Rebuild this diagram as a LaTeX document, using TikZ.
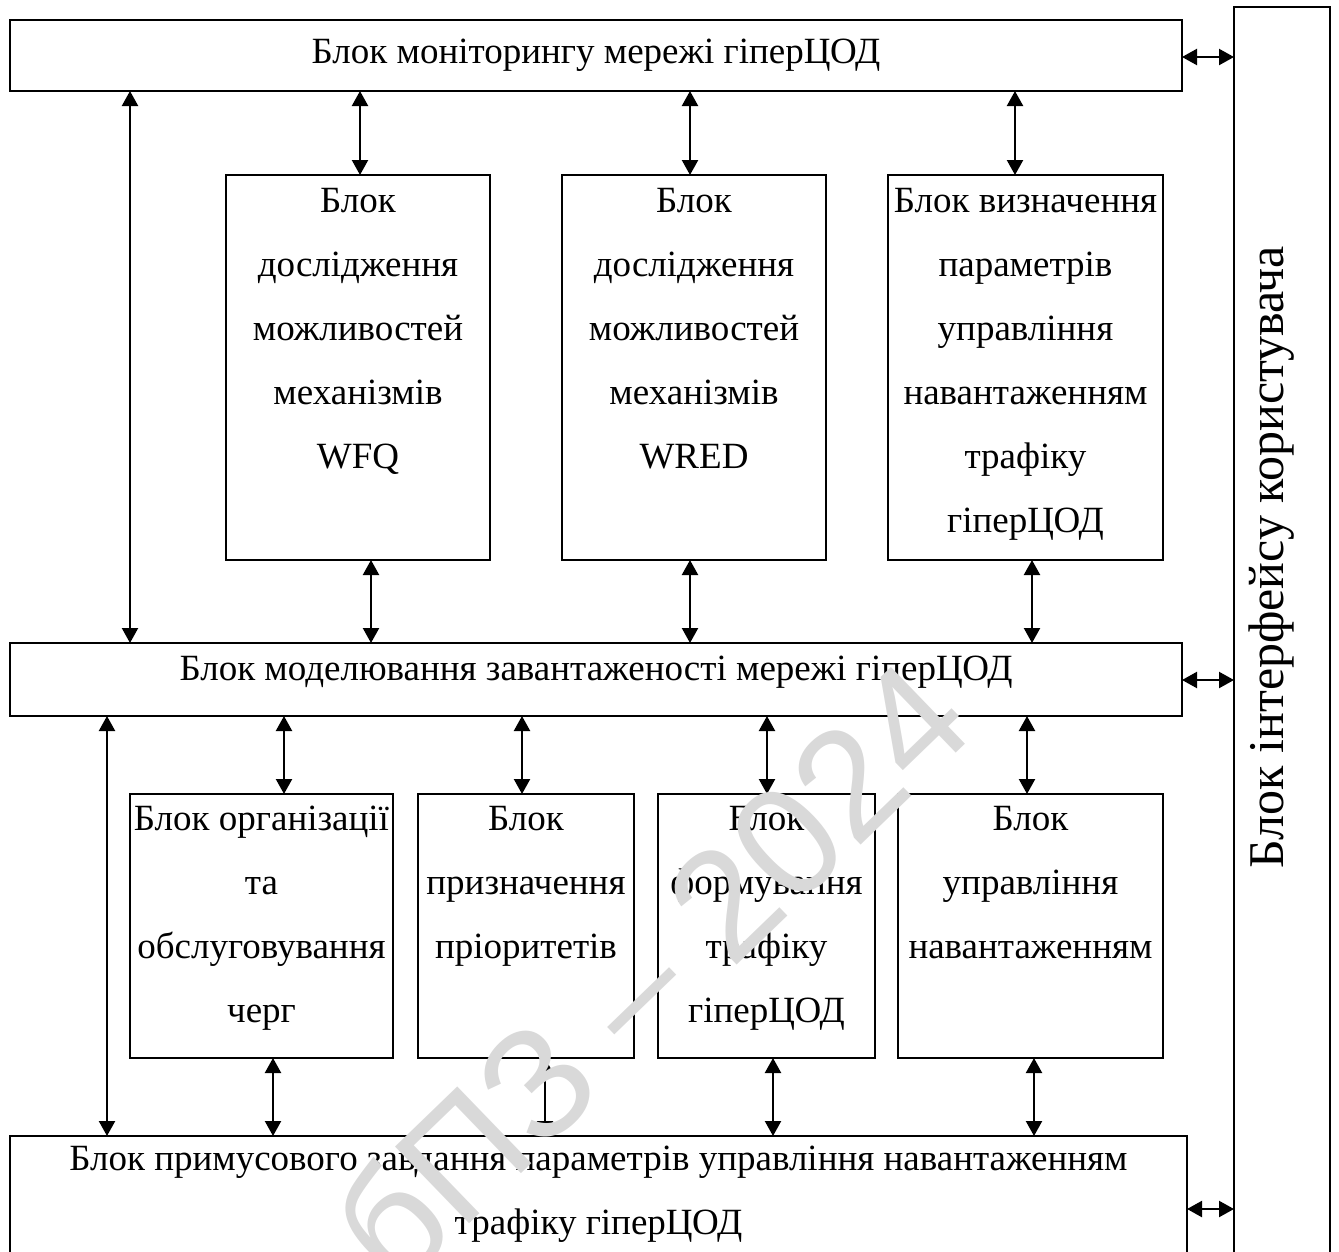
\documentclass[tikz,border=0pt]{standalone}
\usepackage{fontspec}
\setmainfont{Liberation Serif}
\newfontfamily\wmfont{Liberation Sans}
\usetikzlibrary{arrows.meta}
\begin{document}
\begin{tikzpicture}[x=1pt,y=-1pt,
  blk/.style={draw, line width=1.8pt, rectangle, inner sep=0pt, outer sep=0pt, anchor=north west},
  lbl/.style={align=center, inner sep=0pt, anchor=north, font=\fontsize{37}{64}\selectfont},
  conn/.style={line width=2.2pt, {Triangle[length=15pt,width=16pt]}-{Triangle[length=15pt,width=16pt]}},
]
\useasboundingbox (0,0) rectangle (1339,1251);
% boxes
\node[blk, minimum width=1172pt, minimum height=71pt] (top) at (10,20) {};
\node[blk, minimum width=96pt, minimum height=1300pt] (ui) at (1234,7) {};
\node[blk, minimum width=264pt, minimum height=385pt] (A) at (226,175) {};
\node[blk, minimum width=264pt, minimum height=385pt] (B) at (562,175) {};
\node[blk, minimum width=275pt, minimum height=385pt] (C) at (888,175) {};
\node[blk, minimum width=1172pt, minimum height=73pt] (mid) at (10,643) {};
\node[blk, minimum width=263pt, minimum height=264pt] (D) at (130,794) {};
\node[blk, minimum width=216pt, minimum height=264pt] (E) at (418,794) {};
\node[blk, minimum width=217pt, minimum height=264pt] (F) at (658,794) {};
\node[blk, minimum width=265pt, minimum height=264pt] (G) at (898,794) {};
\node[blk, minimum width=1177pt, minimum height=200pt] (bot) at (10,1136) {};
% texts
\node[lbl] (toptxt) at ([yshift=-6pt]top.north) {\rule{0pt}{37pt}Блок моніторингу мережі гіперЦОД};
\node[lbl] (Atxt) at (A.north) {\rule{0pt}{37pt}Блок\\дослідження\\можливостей\\механізмів\\WFQ};
\node[lbl] (Btxt) at (B.north) {\rule{0pt}{37pt}Блок\\дослідження\\можливостей\\механізмів\\WRED};
\node[lbl] (Ctxt) at (C.north) {\rule{0pt}{37pt}Блок визначення\\параметрів\\управління\\навантаженням\\трафіку\\гіперЦОД};
\node[lbl] (midtxt) at (mid.north) {\rule{0pt}{37pt}Блок моделювання завантаженості мережі гіперЦОД};
\node[lbl] (Dtxt) at (D.north) {\rule{0pt}{36pt}Блок організації\\та\\обслуговування\\черг};
\node[lbl] (Etxt) at (E.north) {\rule{0pt}{36pt}Блок\\призначення\\пріоритетів};
\node[lbl] (Ftxt) at (F.north) {\rule{0pt}{36pt}Блок\\формування\\трафіку\\гіперЦОД};
\node[lbl] (Gtxt) at (G.north) {\rule{0pt}{36pt}Блок\\управління\\навантаженням};
\node[lbl] (bottxt) at (bot.north) {\rule{0pt}{34pt}Блок примусового завдання параметрів управління навантаженням\\трафіку гіперЦОД};
\node[rotate=90, inner sep=0pt, anchor=base, font=\fontsize{50}{54}\selectfont] (uitxt) at (1283,557) {Блок інтерфейсу користувача};
% connectors
\draw[conn] (top.south -| 130,0) -- (mid.north -| 130,0);
\draw[conn] (mid.south -| 107,0) -- (bot.north -| 107,0);
\draw[conn] (top.south -| 360,0) -- (A.north -| 360,0);
\draw[conn] (top.south -| 690,0) -- (B.north -| 690,0);
\draw[conn] (top.south -| 1015,0) -- (C.north -| 1015,0);
\draw[conn] (A.south -| 371,0) -- (mid.north -| 371,0);
\draw[conn] (B.south -| 690,0) -- (mid.north -| 690,0);
\draw[conn] (C.south -| 1032,0) -- (mid.north -| 1032,0);
\draw[conn] (mid.south -| 284,0) -- (D.north -| 284,0);
\draw[conn] (mid.south -| 522,0) -- (E.north -| 522,0);
\draw[conn] (mid.south -| 767,0) -- (F.north -| 767,0);
\draw[conn] (mid.south -| 1027,0) -- (G.north -| 1027,0);
\draw[conn] (D.south -| 273,0) -- (bot.north -| 273,0);
\draw[conn] (E.south -| 545,0) -- (bot.north -| 545,0);
\draw[conn] (F.south -| 773,0) -- (bot.north -| 773,0);
\draw[conn] (G.south -| 1034,0) -- (bot.north -| 1034,0);
\draw[conn] (top.east |- 0,57) -- (ui.west |- 0,57);
\draw[conn] (mid.east |- 0,680) -- (ui.west |- 0,680);
\draw[conn] (bot.east |- 0,1209) -- (ui.west |- 0,1209);
% watermark
\node[rotate=44, anchor=east, inner sep=0pt, text=black!15, font=\wmfont\fontsize{155}{155}\selectfont] (wm) at (941,690) {бПЗ – 2024};
\end{tikzpicture}
\end{document}
